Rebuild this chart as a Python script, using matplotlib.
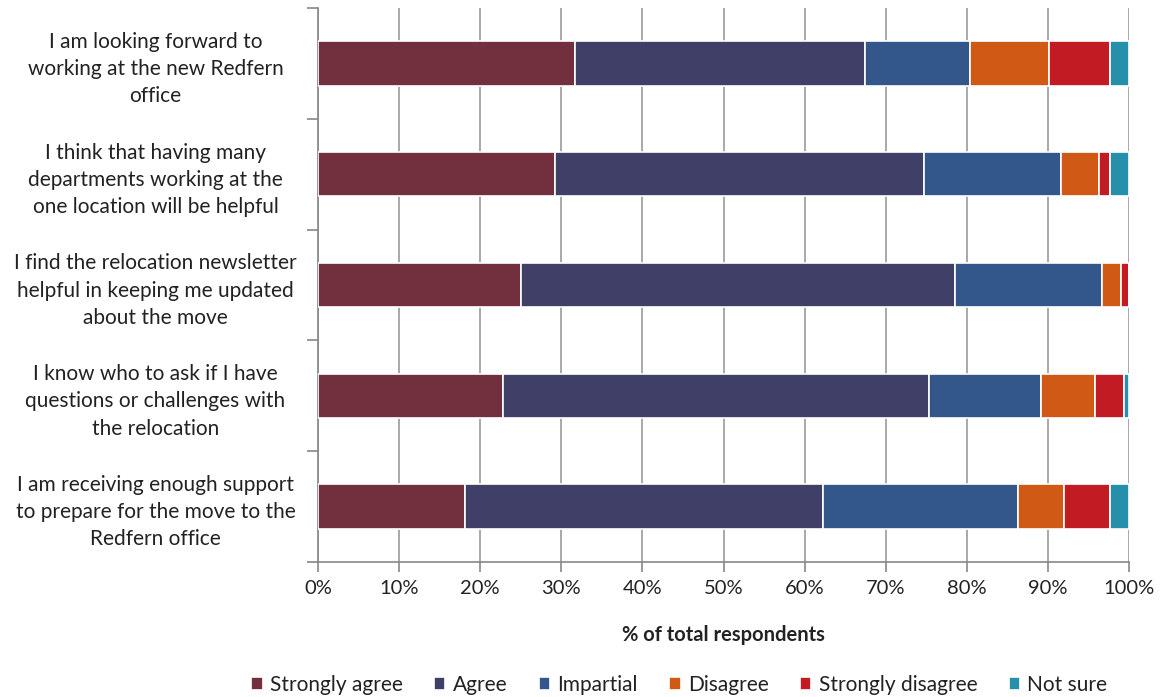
import matplotlib
matplotlib.use("Agg")
import matplotlib.pyplot as plt
import numpy as np
from matplotlib.ticker import FixedLocator, PercentFormatter

categories = [
    "I am looking forward to\nworking at the new Redfern\noffice",
    "I think that having many\ndepartments working at the\none location will be helpful",
    "I find the relocation newsletter\nhelpful in keeping me updated\nabout the move",
    "I know who to ask if I have\nquestions or challenges with\nthe relocation",
    "I am receiving enough support\nto prepare for the move to the\nRedfern office",
]
series_names = ["Strongly agree", "Agree", "Impartial", "Disagree", "Strongly disagree", "Not sure"]
strongly_agree = [31.7, 29.2, 25.0, 22.8, 18.1]
agree = [35.7, 45.5, 53.5, 52.5, 44.2]
impartial = [13.0, 16.9, 18.2, 13.8, 24.0]
disagree = [9.7, 4.7, 2.3, 6.7, 5.7]
strongly_disagree = [7.6, 1.4, 1.0, 3.6, 5.7]
not_sure = [2.3, 2.3, 0.0, 0.6, 2.3]
colors = ["#722F3E", "#3F3F68", "#33578A", "#D05A15", "#C21B24", "#268FAA"]

plt.rcParams['font.family'] = ['Lato', 'DejaVu Sans']

fig = plt.figure(figsize=(11.63, 6.97), dpi=100)
ax = fig.add_axes([318/1163, 1-562/697, (1129-318)/1163, (562-8)/697])

data = [strongly_agree, agree, impartial, disagree, strongly_disagree, not_sure]
y = np.arange(len(categories))
left = np.zeros(len(categories))
for name, vals, c in zip(series_names, data, colors):
    vals = np.array(vals)
    ax.barh(y, vals, left=left, height=0.40, color=c, edgecolor="white", linewidth=1.2,
            label=name, zorder=3)
    left += vals

ax.set_xlim(0, 100)
ax.set_ylim(len(categories) - 0.5, -0.5)
ax.xaxis.set_major_locator(FixedLocator(np.arange(0, 101, 10)))
ax.xaxis.set_major_formatter(PercentFormatter(decimals=0))
ax.set_yticks(y)
ax.set_yticklabels(categories, fontsize=15, color="#222222", ha="center", linespacing=1.45)
ax.tick_params(axis='y', length=0, pad=117)
ax.set_yticks(np.arange(-0.5, len(categories), 1), minor=True)
ax.tick_params(axis='y', which='minor', length=8, color="#888888", width=1.2)
ax.tick_params(axis='x', labelsize=14.5, length=7, color="#888888", width=1.2, labelcolor="#222222", pad=6)

ax.grid(axis='x', color="#999999", linewidth=1.2, zorder=0)
for s in ["top", "right"]:
    ax.spines[s].set_visible(False)
for s in ["left", "bottom"]:
    ax.spines[s].set_color("#888888")
    ax.spines[s].set_linewidth(1.2)

ax.set_xlabel("% of total respondents", fontsize=14.5, fontweight="bold", labelpad=20, color="#222222")

fig.legend(loc="lower center", bbox_to_anchor=(0.584, -0.024), ncol=6, frameon=False,
           fontsize=15, handlelength=0.55, handleheight=0.55, handletextpad=0.35, columnspacing=1.5,
           labelcolor="#222222")

fig.savefig("out.png", dpi=100)
